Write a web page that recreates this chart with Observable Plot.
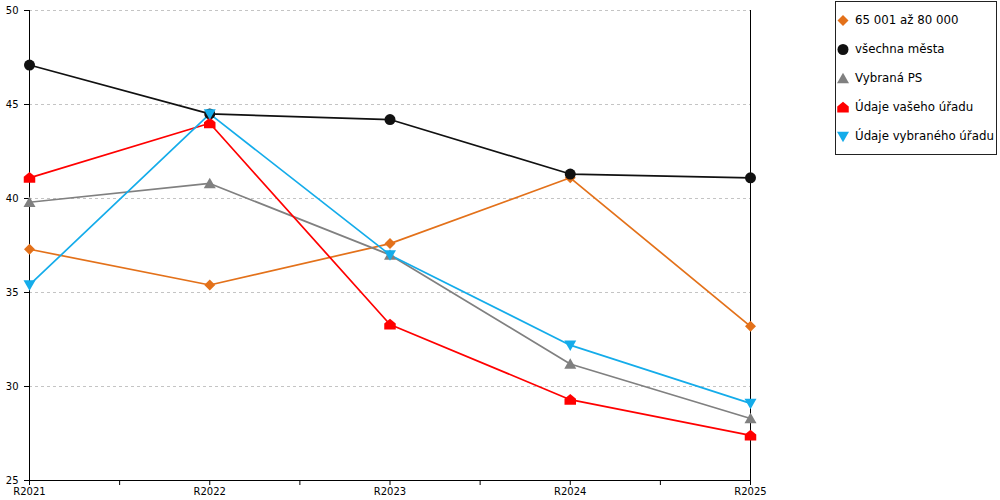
<!DOCTYPE html>
<html>
<head>
<meta charset="utf-8">
<script src="https://cdn.jsdelivr.net/npm/d3@7"></script>
<script src="https://cdn.jsdelivr.net/npm/@observablehq/plot@0.6"></script>
<style>
  body { margin: 0; background: #fff; }
  #wrap { position: relative; width: 1000px; height: 500px; font-family: "DejaVu Sans", Verdana, sans-serif; }
  #legend { position: absolute; left: 835px; top: 1px; width: 162px; height: 154px; box-sizing: border-box; border: 1px solid #222; background: #fff; }
  .item { position: absolute; left: 0; height: 16px; display: flex; align-items: center; font-size: 11.8px; color: #000; white-space: nowrap; }
  .item svg { margin-left: 0px; margin-right: 5px; }
</style>
</head>
<body>
<div id="wrap"><div id="chart"></div><div id="legend"></div></div>
<script>
const categories = ["R2021", "R2022", "R2023", "R2024", "R2025"];
const seriesNames = ["65 001 až 80 000", "všechna města", "Vybraná PS", "Údaje vašeho úřadu", "Údaje vybraného úřadu"];
const seriesColors = ["#E3711A", "#111111", "#808080", "#FF0000", "#14ACEA"];
const orangeValues = [37.3, 35.4, 37.6, 41.1, 33.2];
const blackValues = [47.1, 44.5, 44.2, 41.3, 41.1];
const grayValues = [39.8, 40.8, 37.0, 31.2, 28.3];
const redValues = [41.1, 44.0, 33.3, 29.3, 27.4];
const blueValues = [35.4, 44.5, 37.0, 32.2, 29.1];
const yTicks = [25, 30, 35, 40, 45, 50];
const gridTicks = [30, 35, 40, 45, 50];
const minorTicks = [0.5, 1.5, 2.5, 3.5];

const allValues = [orangeValues, blackValues, grayValues, redValues, blueValues];
const rows = [];
allValues.forEach((vals, s) => vals.forEach((v, i) => rows.push({series: seriesNames[s], i, cat: categories[i], value: v})));

// custom symbols (size = area; r derived)
const rad = size => Math.sqrt(size / Math.PI);
const diamond = {draw(c, size) { const r = rad(size) * 1.1; c.moveTo(0, -r); c.lineTo(r, 0); c.lineTo(0, r); c.lineTo(-r, 0); c.closePath(); }};
const circle = {draw(c, size) { const r = rad(size) * 1.1; c.moveTo(r, 0); c.arc(0, 0, r, 0, 2 * Math.PI); c.closePath(); }};
const triUp = {draw(c, size) { const r = rad(size); c.moveTo(0, -1.15 * r); c.lineTo(1.2 * r, 0.95 * r); c.lineTo(-1.2 * r, 0.95 * r); c.closePath(); }};
const house = {draw(c, size) { const r = rad(size); c.moveTo(-1.15 * r, 1.0 * r); c.lineTo(1.15 * r, 1.0 * r); c.lineTo(1.15 * r, -0.2 * r); c.lineTo(0, -1.15 * r); c.lineTo(-1.15 * r, -0.2 * r); c.closePath(); }};
const triDown = {draw(c, size) { const r = rad(size); c.moveTo(-1.2 * r, -0.95 * r); c.lineTo(1.2 * r, -0.95 * r); c.lineTo(0, 1.15 * r); c.closePath(); }};
const seriesSymbols = [diamond, circle, triUp, house, triDown];

const chart = Plot.plot({
  width: 1000,
  height: 500,
  marginLeft: 29,
  marginRight: 250,
  marginTop: 10,
  marginBottom: 20,
  style: {fontFamily: "DejaVu Sans, Verdana, sans-serif", fontSize: "10px", color: "#000", background: "transparent"},
  x: {domain: [0, 4], axis: null},
  y: {domain: [25, 50], axis: null},
  color: {domain: seriesNames, range: seriesColors},
  symbol: {domain: seriesNames, range: seriesSymbols},
  marks: [
    Plot.ruleY(gridTicks, {stroke: "#c4c4c4", strokeDasharray: "3,3"}),
    Plot.ruleX([0], {stroke: "#000"}),
    Plot.ruleX([4], {stroke: "#000"}),
    Plot.ruleY([25], {stroke: "#000"}),
    Plot.axisY({ticks: yTicks, tickSize: 5, tickPadding: 6, tickFormat: d => String(d), label: null, fontSize: 10}),
    Plot.axisX({ticks: [0, 1, 2, 3, 4], tickFormat: i => categories[i], tickSize: 5, tickPadding: 2, label: null, fontSize: 10}),
    Plot.axisX({ticks: minorTicks, tickFormat: () => "", tickSize: 5, label: null}),
    Plot.line(rows, {x: "i", y: "value", z: "series", stroke: "series", strokeWidth: 1.7}),
    Plot.dot(rows, {x: "i", y: "value", fill: "series", symbol: "series", r: 5, stroke: "none"})
  ]
});
document.getElementById("chart").appendChild(chart);

// legend
const legend = document.getElementById("legend");
const legendTops = [10, 39, 68, 97, 126];
seriesNames.forEach((name, s) => {
  const item = document.createElement("div");
  item.className = "item";
  item.style.top = legendTops[s] + "px";
  const svg = d3.create("svg").attr("width", 14).attr("height", 16);
  svg.append("path")
    .attr("transform", "translate(7,8.5)")
    .attr("d", d3.symbol().type(seriesSymbols[s]).size(Math.PI * 25)())
    .attr("fill", seriesColors[s]);
  item.appendChild(svg.node());
  const span = document.createElement("span");
  span.textContent = name;
  item.appendChild(span);
  legend.appendChild(item);
});
</script>
</body>
</html>
